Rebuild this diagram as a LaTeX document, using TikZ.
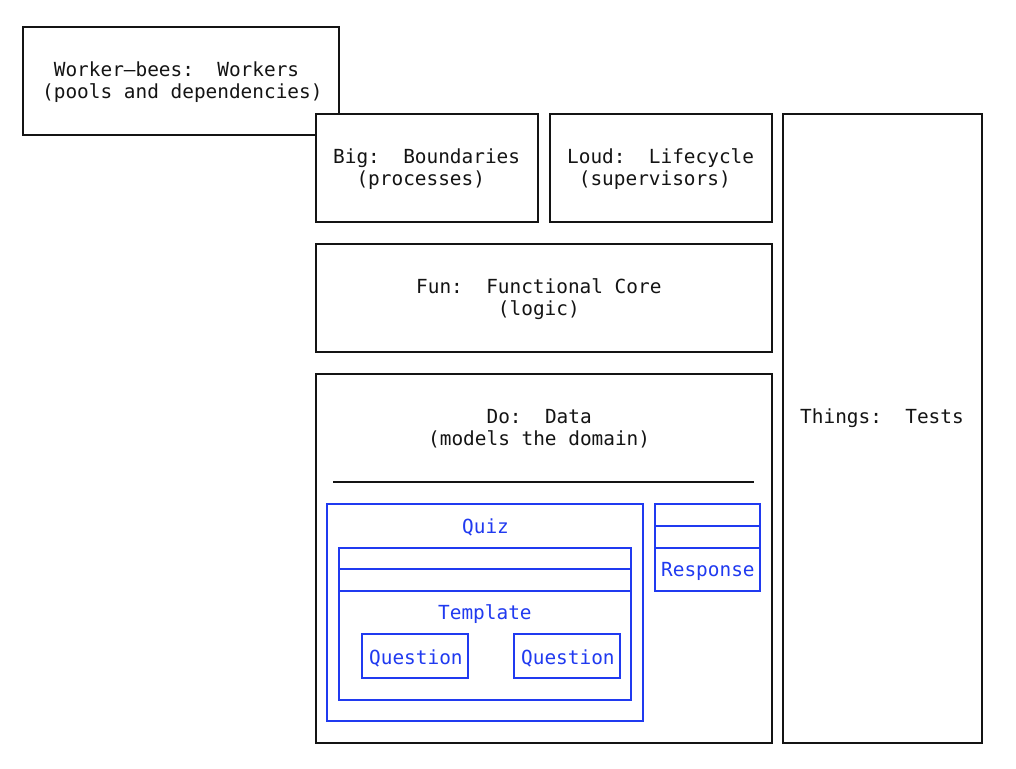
\documentclass[tikz,border=0pt]{standalone}
\usepackage{fontspec}
\setmonofont{DejaVu Sans Mono}
\usetikzlibrary{calc}
\definecolor{ink}{RGB}{20,20,20}
\definecolor{model}{RGB}{32,58,240}
% indent by n monospace cells
\newcommand\cells[1]{\hspace*{#1\dimexpr 11.68pt\relax}}
\begin{document}
\begin{tikzpicture}[x=1pt,y=-1pt,
  box/.style={draw=ink, line width=1.4pt, fill=white, inner sep=0pt, outer sep=0pt, anchor=north west},
  mbox/.style={box, draw=model},
  lbl/.style={font=\ttfamily\fontsize{19.4}{22}\selectfont, text=ink, align=left, inner sep=0pt, anchor=west},
  mlbl/.style={lbl, text=model},
  rule/.style={draw=ink, line width=1.8pt},
  mrule/.style={draw=model, line width=1.4pt}]
\useasboundingbox (0,0) rectangle (1016,768);

% outer layers
\node[box, minimum width=316pt, minimum height=108pt] (workers) at (23,27) {};
\node[box, minimum width=222pt, minimum height=108pt] (big) at (316,114) {};
\node[box, minimum width=222pt, minimum height=108pt] (loud) at (550,114) {};
\node[box, minimum width=199pt, minimum height=629pt] (things) at (783,114) {};
\node[box, minimum width=456pt, minimum height=108pt] (fun) at (316,244) {};
\node[box, minimum width=456pt, minimum height=369pt] (data) at (316,374) {};

\node[lbl] (workerslbl) at (42,82) {\cells{1}Worker–bees:\ \ Workers\\(pools and dependencies)};
\node[lbl] (biglbl) at (333,169) {Big:\ \ Boundaries\\\cells{2}(processes)};
\node[lbl] (loudlbl) at (567,169) {Loud:\ \ Lifecycle\\\cells{1}(supervisors)};
\node[lbl] (funlbl) at (416,299) {Fun:\ \ Functional Core\\\cells{7}(logic)};
\node[lbl] (datalbl) at (428,429) {\cells{5}Do:\ \ Data\\(models the domain)};
\node[lbl] (thingslbl) at (800,418) {Things:\ \ Tests};

% separator under the data heading
\coordinate (sepL) at (333,482);
\coordinate (sepR) at (754,482);
\draw[rule] (sepL) -- (sepR);

% data models
\node[mbox, minimum width=316pt, minimum height=217pt] (quiz) at (327,504) {};
\node[mbox, minimum width=292pt, minimum height=152pt] (tmpl) at (339,548) {};
\node[mbox, minimum width=106pt, minimum height=44pt] (q1) at (362,634) {};
\node[mbox, minimum width=106pt, minimum height=44pt] (q2) at (514,634) {};
\node[mbox, minimum width=105pt, minimum height=87pt] (resp) at (655,504) {};

\draw[mrule] ($(tmpl.north west)+(0,21)$) -- ($(tmpl.north east)+(0,21)$);
\draw[mrule] ($(tmpl.north west)+(0,43)$) -- ($(tmpl.north east)+(0,43)$);
\draw[mrule] ($(resp.north west)+(0,22)$) -- ($(resp.north east)+(0,22)$);
\draw[mrule] ($(resp.north west)+(0,44)$) -- ($(resp.north east)+(0,44)$);

\node[mlbl] (quizlbl) at (462,527) {Quiz};
\node[mlbl] (tmpllbl) at (438,614) {Template};
\node[mlbl] (q1lbl) at (369,658) {Question};
\node[mlbl] (q2lbl) at (521,658) {Question};
\node[mlbl] (resplbl) at (661,571) {Response};
\end{tikzpicture}
\end{document}
